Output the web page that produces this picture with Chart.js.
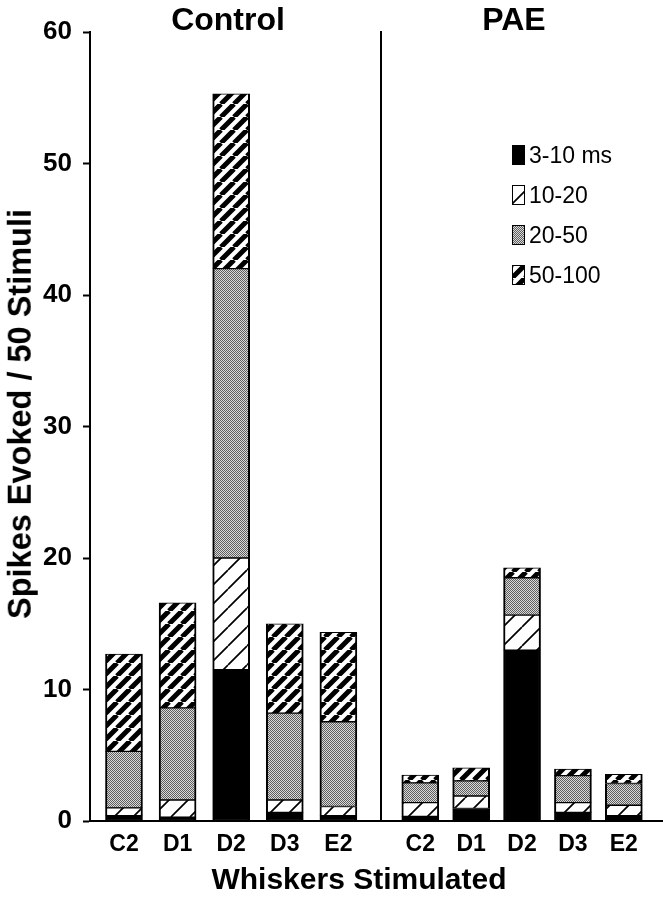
<!DOCTYPE html>
<html>
<head>
<meta charset="utf-8">
<script src="https://cdn.jsdelivr.net/npm/chart.js@4.4.1/dist/chart.umd.min.js"></script>
<style>
  html, body { margin: 0; padding: 0; background: #fff; }
  #wrap { position: relative; width: 663px; height: 900px; font-family: "Liberation Sans", Arial, sans-serif; color: #000; }
  canvas.chart { position: absolute; top: 0; }
  .txt { position: absolute; white-space: nowrap; line-height: 1; font-weight: bold; }
  .legend-row { position: absolute; left: 512px; height: 20px; display: flex; align-items: center; }
  .legend-row canvas { display: block; margin-right: 4px; }
  .legend-row span { font-size: 23px; line-height: 1; }
</style>
</head>
<body>
<div id="wrap">
  <canvas id="ctrl" class="chart" width="381" height="900" style="left:0"></canvas>
  <canvas id="pae" class="chart" width="293" height="900" style="left:370px"></canvas>

  <div class="txt" style="font-size:32px; left:228px; top:3px; transform:translateX(-50%)">Control</div>
  <div class="txt" style="font-size:32px; left:514px; top:3px; transform:translateX(-50%)">PAE</div>
  <div class="txt" style="font-size:30px; left:359px; top:864px; transform:translateX(-50%)">Whiskers Stimulated</div>
  <div class="txt" style="font-size:32.5px; left:20px; top:414px; transform:translate(-50%,-50%) rotate(-90deg)">Spikes Evoked / 50 Stimuli</div>

  <div id="legend"></div>
</div>

<script>
// whiskers on the x axis
const whiskers = ['C2', 'D1', 'D2', 'D3', 'E2'];
const latencyBins = ['3-10 ms', '10-20', '20-50', '50-100'];

// Control: spikes per latency bin
const ctrl3to10 = [0.4, 0.3, 11.5, 0.65, 0.4];
const ctrl10to20 = [0.6, 1.3, 8.5, 0.95, 0.7];
const ctrl20to50 = [4.3, 7.0, 22.0, 6.6, 6.45];
const ctrl50to100 = [7.4, 8.0, 13.3, 6.8, 6.8];

// PAE: spikes per latency bin
const pae3to10 = [0.35, 0.95, 13.0, 0.65, 0.4];
const pae10to20 = [1.05, 0.95, 2.65, 0.75, 0.8];
const pae20to50 = [1.5, 1.15, 2.85, 2.05, 1.65];
const pae50to100 = [0.6, 1.0, 0.75, 0.5, 0.7];

const yTicks = [0, 10, 20, 30, 40, 50, 60];

const FONT = '"Liberation Sans", Arial, sans-serif';

function makePattern(w, h, draw) {
  const tile = document.createElement('canvas');
  tile.width = w;
  tile.height = h;
  const t = tile.getContext('2d');
  draw(t, w, h);
  return document.createElement('canvas').getContext('2d').createPattern(tile, 'repeat');
}

function diagonal(t, w, h, lineWidth) {
  t.fillStyle = '#fff';
  t.fillRect(0, 0, w, h);
  t.strokeStyle = '#000';
  t.lineWidth = lineWidth;
  t.beginPath();
  for (let k = -1; k <= 1; k++) {
    t.moveTo(k * w, h);
    t.lineTo(k * w + w, 0);
  }
  t.stroke();
}

const fills = [
  '#000',
  makePattern(19, 19, (t, w, h) => diagonal(t, w, h, 1.7)),
  makePattern(2, 2, (t) => {
    t.fillStyle = '#dadada';
    t.fillRect(0, 0, 2, 2);
    t.fillStyle = '#5e5e5e';
    t.fillRect(0, 0, 1, 1);
    t.fillRect(1, 1, 1, 1);
  }),
  makePattern(13, 13, (t, w, h) => diagonal(t, w, h, 5)),
];

function toPoints(values) {
  return values.map((v, i) => ({ x: i, y: v }));
}

function createPanel(canvas, series, xRange, showYTicks) {
  const yAxis = {
    stacked: true,
    min: yTicks[0],
    max: yTicks[yTicks.length - 1],
    afterBuildTicks: (s) => { s.ticks = yTicks.map((v) => ({ value: v })); },
    border: { display: true, color: '#000', width: 2 },
  };
  if (showYTicks) {
    yAxis.ticks = { color: '#000', padding: 11, font: { family: FONT, size: 26, weight: 'bold' } };
    yAxis.grid = { drawOnChartArea: false, drawTicks: true, tickLength: 7, tickColor: '#000', tickWidth: 2 };
    yAxis.afterFit = (s) => { s.width = 90; };
  } else {
    yAxis.ticks = { display: false };
    yAxis.grid = { display: false };
    yAxis.afterFit = (s) => { s.width = 11; };
  }

  return new Chart(canvas, {
    type: 'bar',
    data: {
      datasets: series.map((values, i) => ({
        label: latencyBins[i],
        data: toPoints(values),
        backgroundColor: fills[i],
        borderColor: '#000',
        borderWidth: { top: 1, bottom: 1, left: 2, right: 2 },
        borderSkipped: false,
        barThickness: 37,
      })),
    },
    options: {
      responsive: false,
      animation: false,
      layout: { padding: { top: 32, left: 0, right: 0, bottom: 0 } },
      plugins: { legend: { display: false }, tooltip: { enabled: false }, title: { display: false } },
      scales: {
        x: {
          type: 'linear',
          stacked: true,
          offset: false,
          min: xRange[0],
          max: xRange[1],
          afterBuildTicks: (s) => { s.ticks = whiskers.map((_, i) => ({ value: i })); },
          ticks: {
            color: '#000',
            padding: 2,
            maxRotation: 0,
            autoSkip: false,
            font: { family: FONT, size: 23, weight: 'bold' },
            callback: (v) => whiskers[v] ?? '',
          },
          grid: { display: false, offset: false },
          border: { display: true, color: '#000', width: 2 },
          afterFit: (s) => { s.height = 79; },
        },
        y: yAxis,
      },
    },
  });
}

createPanel(document.getElementById('ctrl'),
  [ctrl3to10, ctrl10to20, ctrl20to50, ctrl50to100], [-0.634, 4.795], true);
createPanel(document.getElementById('pae'),
  [pae3to10, pae10to20, pae20to50, pae50to100], [-0.772, 4.77], false);

// legend with the same fills
const legendTops = [145, 185, 225, 265];
const legend = document.getElementById('legend');
latencyBins.forEach((name, i) => {
  const row = document.createElement('div');
  row.className = 'legend-row';
  row.style.top = legendTops[i] + 'px';
  const sw = document.createElement('canvas');
  sw.width = 13;
  sw.height = 20;
  const c = sw.getContext('2d');
  c.fillStyle = fills[i];
  c.fillRect(0, 0, 13, 20);
  c.strokeStyle = '#000';
  c.lineWidth = 1;
  c.strokeRect(0.5, 0.5, 12, 19);
  const label = document.createElement('span');
  label.textContent = name;
  row.appendChild(sw);
  row.appendChild(label);
  legend.appendChild(row);
});
</script>
</body>
</html>
